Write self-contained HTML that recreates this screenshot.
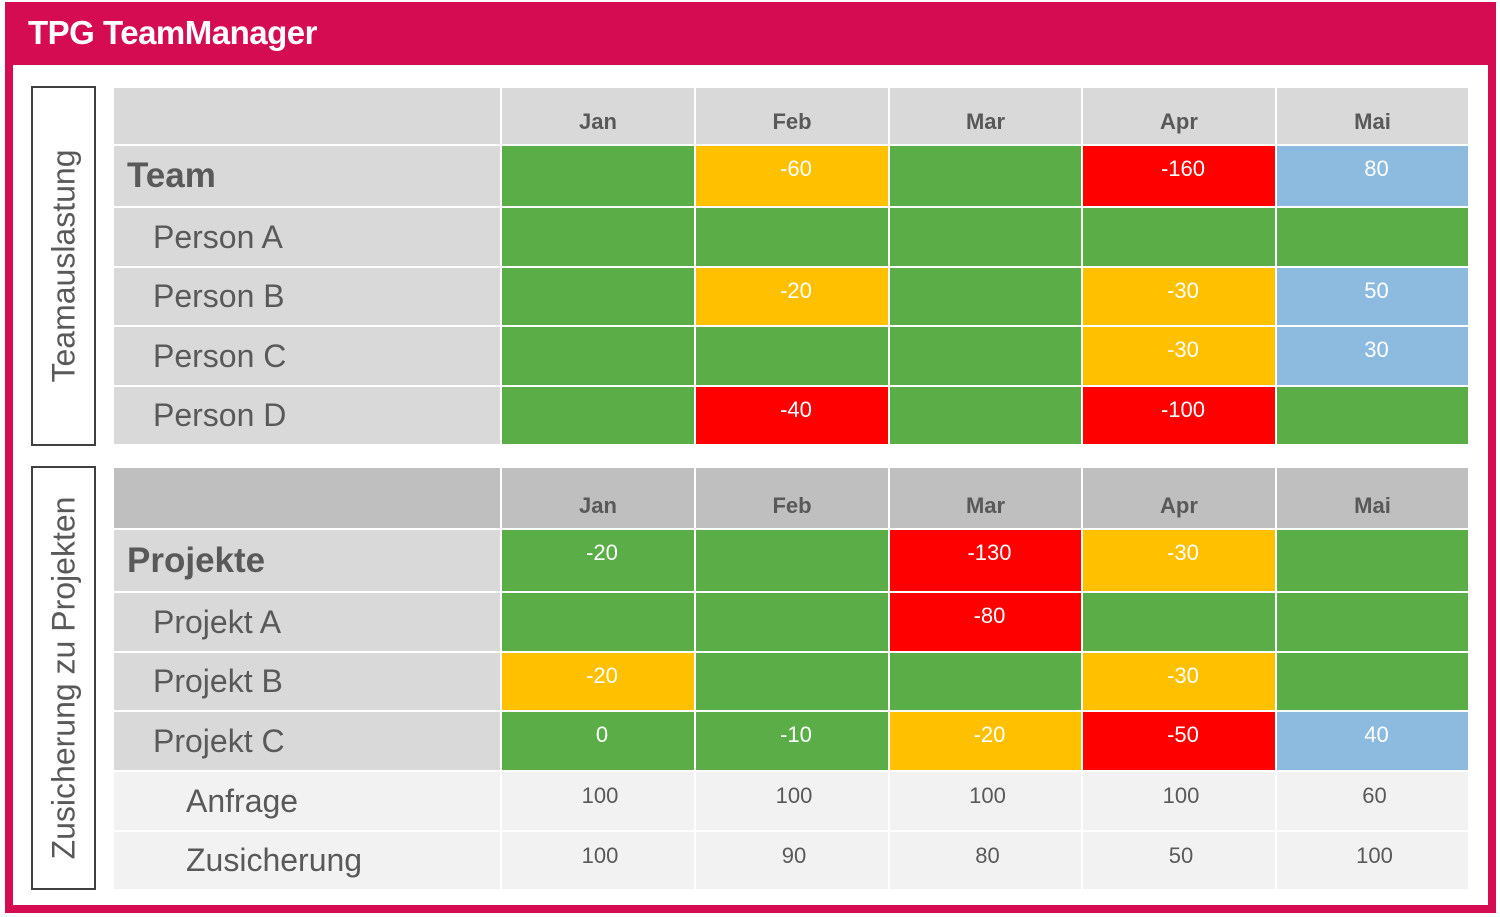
<!DOCTYPE html>
<html><head><meta charset="utf-8"><style>
*{margin:0;padding:0;box-sizing:border-box}
body{width:1500px;height:917px;background:#fff;position:relative;overflow:hidden;font-family:"Liberation Sans",sans-serif;color:#595959}
.frame{position:absolute;left:5px;top:2px;width:1491px;height:911px;background:#D60C53}
.inner{position:absolute;left:13px;top:65px;width:1475px;height:840px;background:#fff}
.title{position:absolute;left:28px;top:14px;color:#fff;font-weight:bold;font-size:33px;letter-spacing:-0.5px}
table{position:absolute;left:112px;border-collapse:separate;border-spacing:2px;table-layout:fixed}
td{padding:0;vertical-align:top;text-align:center;font-size:22px;color:#fff}
td.l{background:#d9d9d9;color:#595959;text-align:left;font-size:32px;vertical-align:middle;padding-left:39px}
td.l.b{font-weight:bold;font-size:35px;padding-left:13px}
td.l.x{background:#f2f2f2;padding-left:72px}
td.h{background:#d9d9d9;color:#595959;font-weight:bold;font-size:22px;padding-top:21px}
.t2 td.h{background:#bfbfbf;padding-top:25px}
.g{background:#5BAD48}.o{background:#FFC000}.r{background:#FF0000}.u{background:#8DBBE0}
td.v{padding-top:10px;padding-left:8px}
td.n{background:#f2f2f2;color:#595959;padding-top:11px;font-size:22px;padding-left:4px}
.side{position:absolute;left:31px;width:65px;border:2px solid #404040;background:#fff}
.side span{position:absolute;left:50%;top:50%;transform:translate(-50%,-50%) rotate(-90deg);white-space:nowrap;font-size:32px;color:#595959}
</style></head><body>
<div class="frame"></div>
<div class="inner"></div>
<div class="title">TPG TeamManager</div>
<div class="side" style="top:86px;height:360px"><span>Teamauslastung</span></div>
<div class="side" style="top:466px;height:424px"><span>Zusicherung zu Projekten</span></div>
<table style="top:86px">
<colgroup><col style="width:386px"><col style="width:192px"><col style="width:192px"><col style="width:191px"><col style="width:192px"><col style="width:191px"></colgroup>
<tr style="height:56px"><td class="h"></td><td class="h">Jan</td><td class="h">Feb</td><td class="h">Mar</td><td class="h">Apr</td><td class="h">Mai</td></tr>
<tr style="height:60px"><td class="l b">Team</td><td class="g v"></td><td class="o v">-60</td><td class="g v"></td><td class="r v">-160</td><td class="u v">80</td></tr>
<tr style="height:58px"><td class="l">Person A</td><td class="g"></td><td class="g"></td><td class="g"></td><td class="g"></td><td class="g"></td></tr>
<tr style="height:57px"><td class="l">Person B</td><td class="g v"></td><td class="o v">-20</td><td class="g v"></td><td class="o v">-30</td><td class="u v">50</td></tr>
<tr style="height:58px"><td class="l">Person C</td><td class="g v"></td><td class="g v"></td><td class="g v"></td><td class="o v">-30</td><td class="u v">30</td></tr>
<tr style="height:57px"><td class="l">Person D</td><td class="g v"></td><td class="r v">-40</td><td class="g v"></td><td class="r v">-100</td><td class="g v"></td></tr>
</table>
<table class="t2" style="top:466px">
<colgroup><col style="width:386px"><col style="width:192px"><col style="width:192px"><col style="width:191px"><col style="width:192px"><col style="width:191px"></colgroup>
<tr style="height:60px"><td class="h"></td><td class="h">Jan</td><td class="h">Feb</td><td class="h">Mar</td><td class="h">Apr</td><td class="h">Mai</td></tr>
<tr style="height:61px"><td class="l b">Projekte</td><td class="g v">-20</td><td class="g v"></td><td class="r v">-130</td><td class="o v">-30</td><td class="g v"></td></tr>
<tr style="height:58px"><td class="l">Projekt A</td><td class="g v"></td><td class="g v"></td><td class="r v">-80</td><td class="g v"></td><td class="g v"></td></tr>
<tr style="height:57px"><td class="l">Projekt B</td><td class="o v">-20</td><td class="g v"></td><td class="g v"></td><td class="o v">-30</td><td class="g v"></td></tr>
<tr style="height:58px"><td class="l">Projekt C</td><td class="g v">0</td><td class="g v">-10</td><td class="o v">-20</td><td class="r v">-50</td><td class="u v">40</td></tr>
<tr style="height:58px"><td class="l x">Anfrage</td><td class="n">100</td><td class="n">100</td><td class="n">100</td><td class="n">100</td><td class="n">60</td></tr>
<tr style="height:57px"><td class="l x">Zusicherung</td><td class="n">100</td><td class="n">90</td><td class="n">80</td><td class="n">50</td><td class="n">100</td></tr>
</table>
</body></html>
